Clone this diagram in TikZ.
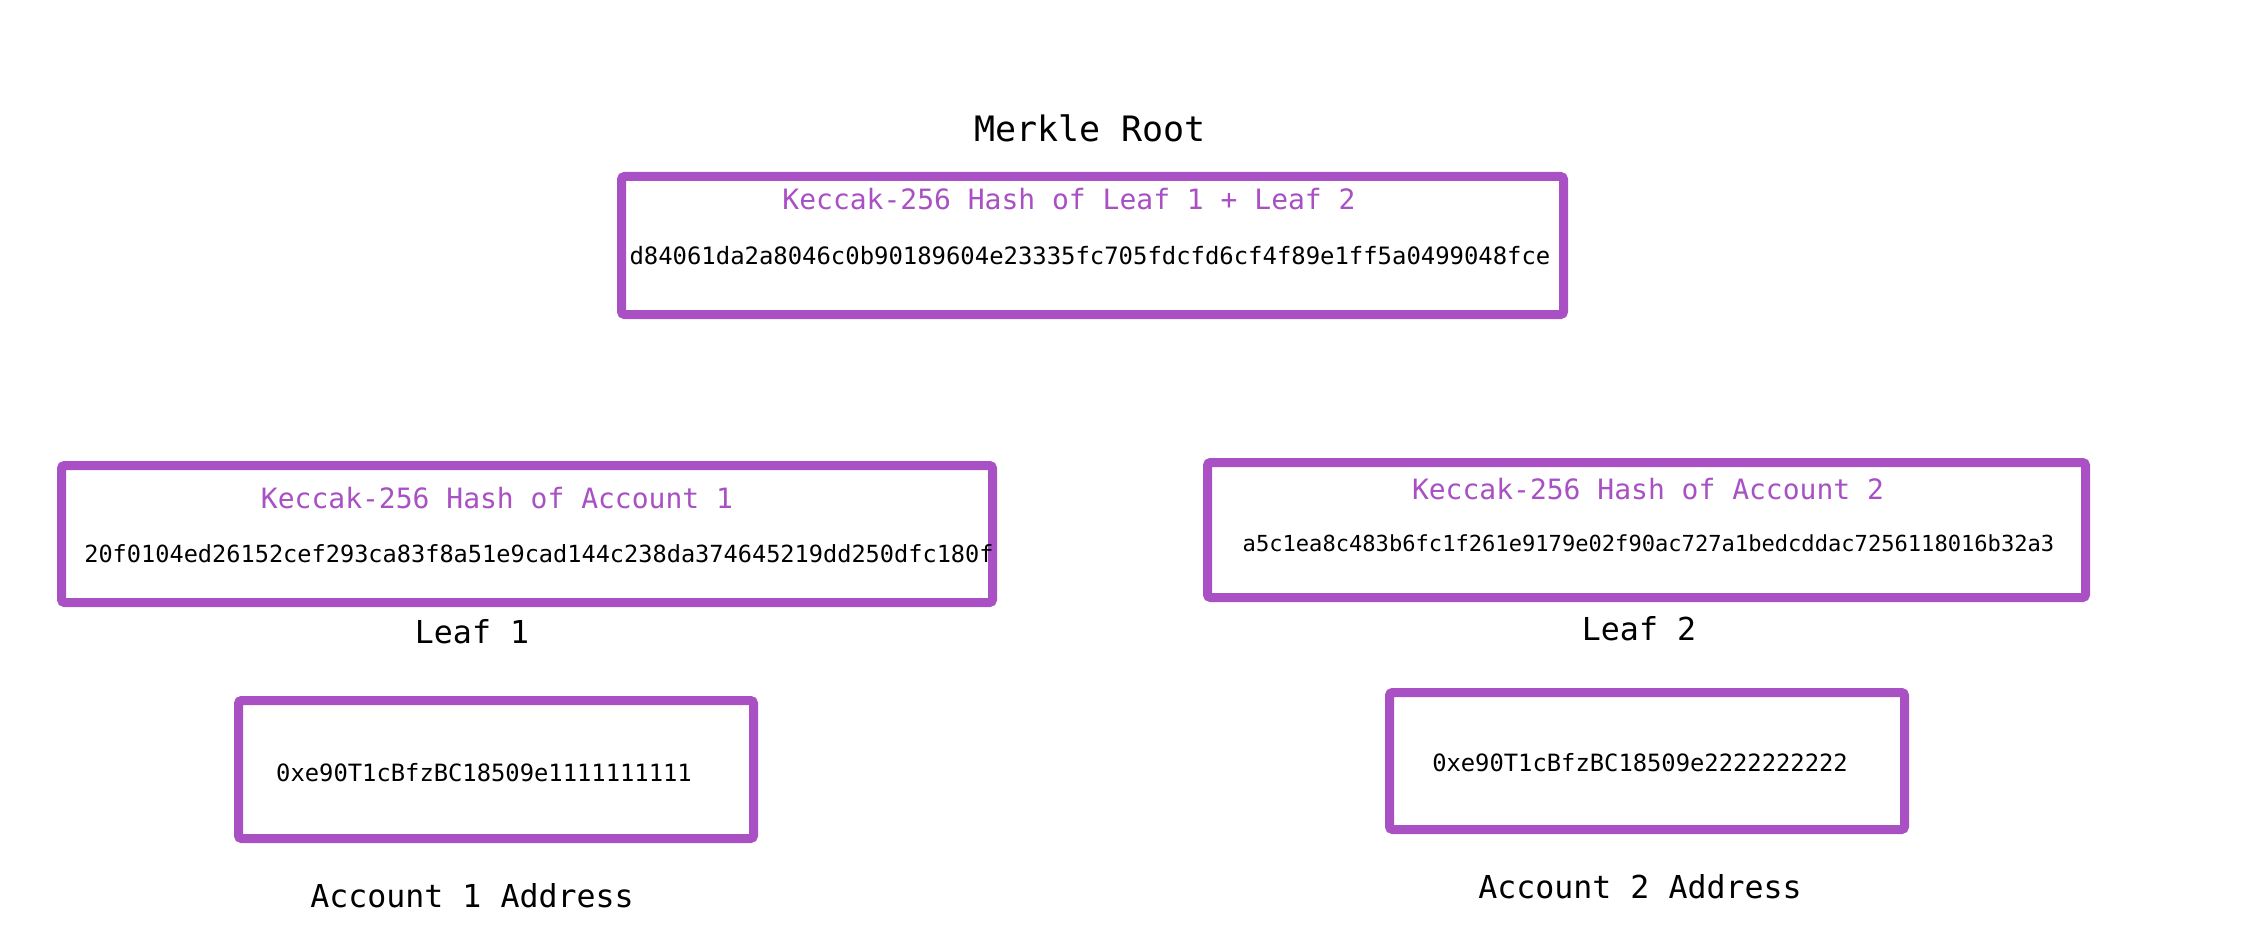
\documentclass[tikz,border=0pt]{standalone}
\usepackage{fontspec}
\setmonofont{DejaVu Sans Mono}
\definecolor{mpurple}{RGB}{168,80,196}
\begin{document}
\begin{tikzpicture}[x=0.5pt,y=-0.5pt,
  box/.style={draw=mpurple,line width=4.5pt,rounded corners=1.5pt,inner sep=0pt,outer sep=0pt},
  txt/.style={inner sep=0pt,text height=0.73em,text depth=0pt,font=\ttfamily},
  ttl/.style={txt,text=mpurple,font=\ttfamily\fontsize{14}{16}\selectfont},
  lbl/.style={txt,font=\ttfamily\fontsize{15.8}{18}\selectfont}]
\useasboundingbox[fill=white] (0,0) rectangle (2264,952);
% boxes
\node[box,minimum width=471pt,minimum height=69pt] (rootbox) at (1092.5,245.5) {};
\node[box,minimum width=465.5pt,minimum height=68.5pt] (leafAbox) at (527,534) {};
\node[box,minimum width=439pt,minimum height=67.5pt] (leafBbox) at (1646.5,530) {};
\node[box,minimum width=257.5pt,minimum height=69pt] (accAbox) at (496,769.5) {};
\node[box,minimum width=257.5pt,minimum height=68.5pt] (accBbox) at (1647,761) {};
% texts
\node[txt,font=\ttfamily\fontsize{17.5}{20}\selectfont] (rootlbl) at (1090,134) {Merkle Root};
\node[ttl] (roottitle) at (1069,202) {Keccak-256 Hash of Leaf 1 + Leaf 2};
\node[txt,font=\ttfamily\fontsize{11.95}{14}\selectfont] (roothash) at (1090,257) {d84061da2a8046c0b90189604e23335fc705fdcfd6cf4f89e1ff5a0499048fce};
\node[ttl] (leafAtitle) at (497,501) {Keccak-256 Hash of Account 1};
\node[txt,font=\ttfamily\fontsize{11.8}{14}\selectfont] (leafAhash) at (539,555) {20f0104ed26152cef293ca83f8a51e9cad144c238da374645219dd250dfc180f};
\node[lbl] (leafAlbl) at (472,636) {Leaf 1};
\node[ttl] (leafBtitle) at (1648,492) {Keccak-256 Hash of Account 2};
\node[txt,font=\ttfamily\fontsize{11.05}{13}\selectfont] (leafBhash) at (1648.5,544) {a5c1ea8c483b6fc1f261e9179e02f90ac727a1bedcddac7256118016b32a3};
\node[lbl] (leafBlbl) at (1639,633) {Leaf 2};
\node[txt,font=\ttfamily\fontsize{11.9}{14}\selectfont] (accAtxt) at (484,774) {0xe90T1cBfzBC18509e1111111111};
\node[lbl] (accAlbl) at (472,900) {Account 1 Address};
\node[txt,font=\ttfamily\fontsize{11.9}{14}\selectfont] (accBtxt) at (1640,764) {0xe90T1cBfzBC18509e2222222222};
\node[lbl] (accBlbl) at (1640,891) {Account 2 Address};
\end{tikzpicture}
\end{document}
